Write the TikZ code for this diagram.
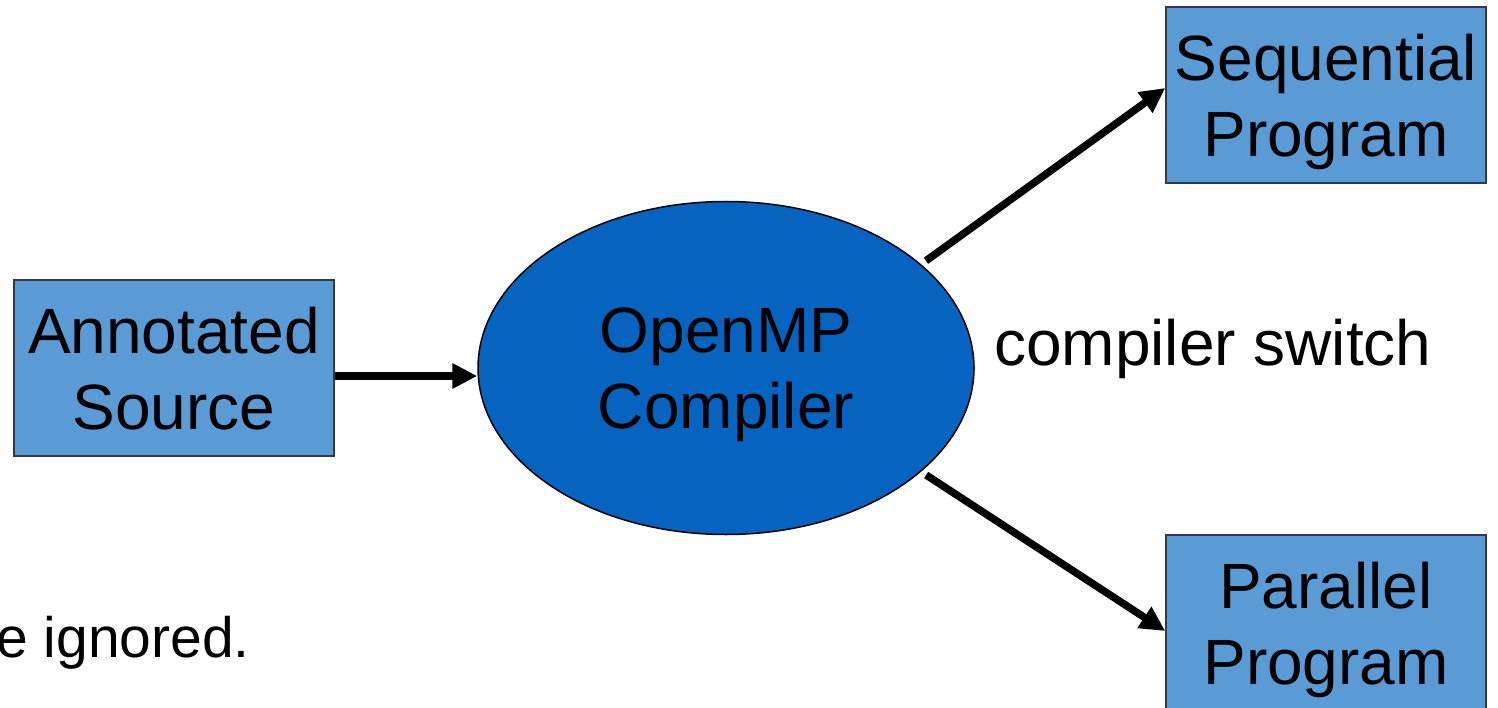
\documentclass[tikz,border=0pt]{standalone}
\usepackage{fontspec}
\setmainfont{Liberation Sans}
\usetikzlibrary{arrows.meta,shapes.geometric}
\definecolor{boxblue}{RGB}{91,155,213}
\definecolor{ellblue}{RGB}{6,99,192}
\definecolor{boxline}{RGB}{50,60,70}
\begin{document}
\begin{tikzpicture}[x=1pt,y=-1pt,
  every node/.style={font=\fontsize{64}{76}\selectfont, text=black, align=center, inner sep=0pt},
  prog/.style={draw=boxline, line width=1.5pt, fill=boxblue, minimum width=320pt, minimum height=176pt, text depth=0pt},
  comp/.style={ellipse, draw=black, line width=1.5pt, fill=ellblue, minimum width=496pt, minimum height=333pt, text depth=0pt},
  flow/.style={line width=7.5pt, -{Triangle[length=25pt,width=24pt]}}]
\useasboundingbox (0,0) rectangle (1498,708);
\clip (0,0) rectangle (1498,708);
\fill[white] (0,0) rectangle (1498,708);
\node[prog] (src) at (174,368) {Annotated\\Source};
\node[comp] (ell) at (726,368) {OpenMP\\Compiler};
\node[prog] (seq) at (1326,95) {Sequential\\Program};
\node[prog] (par) at (1326,623) {Parallel\\Program};
\node[anchor=base west] (sw) at (994,365) {compiler switch};
\node[anchor=base east, font=\fontsize{57}{68}\selectfont] (ign) at (250,657) {e ignored.};
\draw[flow] ([yshift=-8pt]src.east) -- ([yshift=-8pt]ell.west);
\draw[flow, shorten <=6pt] (ell.28) -- ([yshift=7pt]seq.west);
\draw[flow, shorten <=6pt] (ell.-28) -- ([yshift=-8pt]par.west);
\end{tikzpicture}
\end{document}
